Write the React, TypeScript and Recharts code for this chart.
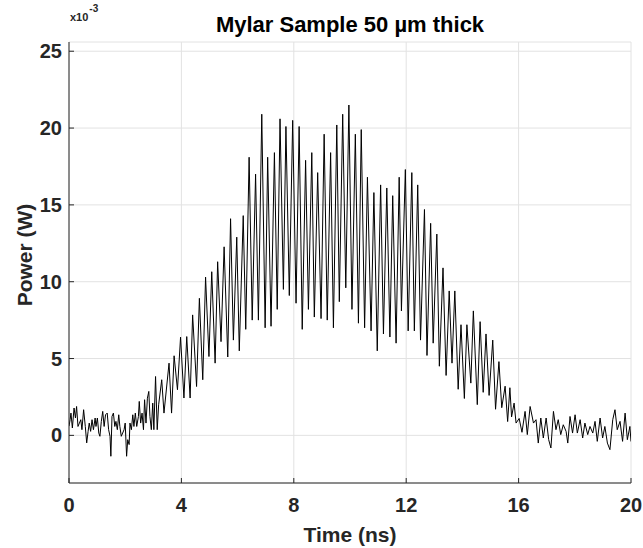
import React from "react";
import { LineChart, Line, XAxis, YAxis, CartesianGrid } from "recharts";

// power values are in units of 1e-3 W (axis carries the x10^-3 exponent)

// noise floor before the pulse
const preTime = [
  0.0, 0.04, 0.07, 0.12, 0.18, 0.23, 0.27, 0.32, 0.37, 0.42,
  0.46, 0.52, 0.58, 0.63, 0.68, 0.72, 0.77, 0.82, 0.87, 0.93,
  0.96, 1.01, 1.06, 1.1, 1.15, 1.2, 1.25, 1.3, 1.36, 1.41,
  1.46, 1.49, 1.53, 1.58, 1.63, 1.67, 1.72, 1.77, 1.81, 1.86,
  1.91, 1.96, 2.0, 2.05, 2.09, 2.14, 2.17, 2.22, 2.27, 2.31,
  2.36, 2.41, 2.47, 2.5, 2.55, 2.6, 2.65, 2.69, 2.74, 2.79,
  2.84, 2.88, 2.93, 2.98, 3.02, 3.08, 3.14, 3.19,
];
const prePower = [
  0.6, 1.02, 1.45, 0.48, 1.78, 1.13, 1.88, 0.58, 0.8, 1.02,
  0.37, 1.67, 0.58, -0.49, 0.26, 0.8, 0.26, 1.02, 0.37, 1.13,
  0.58, 1.13, 0.15, -0.06, 0.91, 1.56, 0.58, 1.34, 1.45, 0.37,
  -0.06, -1.36, 1.23, 1.45, 0.58, 0.91, 0.37, 1.34, 0.58, -0.06,
  0.15, 0.37, 0.8, -1.36, -0.28, -0.6, 0.8, 0.37, 1.34, 0.58,
  1.45, 0.58, 1.23, 2.21, 0.8, 1.45, 0.37, 2.32, 0.8, 2.42,
  2.86, 1.23, 0.37, 2.1, 0.37, 3.83, 0.37, 1.99,
];

// interference fringes (alternating peak / trough)
const pulseTime = [
  3.3, 3.38, 3.56, 3.65, 3.74, 3.86, 3.97, 4.09, 4.19, 4.31,
  4.4, 4.54, 4.64, 4.76, 4.86, 4.98, 5.08, 5.2, 5.29, 5.41,
  5.52, 5.65, 5.75, 5.85, 5.97, 6.06, 6.2, 6.29, 6.41, 6.52,
  6.64, 6.74, 6.86, 6.98, 7.07, 7.19, 7.31, 7.41, 7.51, 7.63,
  7.72, 7.84, 7.96, 8.08, 8.19, 8.3, 8.42, 8.52, 8.64, 8.73,
  8.85, 8.97, 9.08, 9.19, 9.31, 9.41, 9.53, 9.62, 9.74, 9.85,
  9.96, 10.07, 10.19, 10.3, 10.4, 10.52, 10.62, 10.75, 10.85, 10.97,
  11.09, 11.19, 11.31, 11.42, 11.52, 11.64, 11.75, 11.83, 11.97, 12.07,
  12.2, 12.29, 12.41, 12.51, 12.65, 12.74, 12.87, 12.96, 13.09, 13.18,
  13.31, 13.42, 13.53, 13.63, 13.73, 13.85, 13.95, 14.07, 14.16, 14.3,
  14.39, 14.53, 14.63, 14.74, 14.84, 14.95, 15.08, 15.18, 15.3, 15.4,
  15.52, 15.61, 15.69, 15.75, 15.84, 15.91, 16.02, 16.12,
];
const pulsePower = [
  3.62, 1.45, 4.7, 1.45, 5.18, 2.97, 6.39, 2.43, 6.43, 2.43,
  7.84, 3.18, 8.92, 3.62, 10.3, 5.13, 10.65, 4.7, 11.3, 6.1,
  12.27, 5.1, 14.1, 6.2, 12.9, 5.5, 14.3, 6.9, 18.1, 7.5,
  17.0, 7.5, 20.9, 7.0, 18.1, 7.1, 18.4, 8.2, 20.6, 9.5,
  20.1, 9.1, 20.5, 8.6, 20.1, 6.9, 17.9, 8.2, 18.4, 7.7,
  17.1, 7.6, 19.6, 7.5, 18.4, 7.0, 20.2, 8.7, 20.9, 9.6,
  21.5, 8.2, 19.6, 7.3, 19.9, 7.0, 16.8, 6.8, 15.8, 5.5,
  16.3, 6.6, 16.1, 6.4, 15.6, 6.0, 16.8, 8.1, 17.3, 6.8,
  17.1, 6.8, 16.3, 6.2, 14.7, 5.2, 13.8, 6.0, 13.1, 4.5,
  10.9, 3.9, 9.4, 4.7, 9.4, 3.0, 7.2, 2.4, 7.2, 3.4,
  8.1, 2.0, 7.4, 2.8, 6.6, 2.6, 6.2, 1.7, 4.8, 1.8,
  3.2, 0.9, 3.1, 1.2, 2.1, 0.8, 1.1, 0.2,
];

// noise floor after the pulse
const postTime = [
  16.23, 16.31, 16.41, 16.53, 16.62, 16.7, 16.79, 16.88, 16.98, 17.07,
  17.15, 17.24, 17.33, 17.41, 17.5, 17.59, 17.69, 17.75, 17.83, 17.92,
  18.01, 18.09, 18.19, 18.28, 18.36, 18.46, 18.54, 18.64, 18.72, 18.8,
  18.9, 18.99, 19.07, 19.16, 19.25, 19.35, 19.43, 19.51, 19.61, 19.7,
  19.79, 19.87, 19.96, 20.0,
];
const postPower = [
  1.56, 0.05, 1.88, 0.8, 1.02, -0.5, 1.13, -0.17, 1.13, -0.28,
  -0.82, 1.56, 0.37, 1.02, 0.05, 0.69, 0.26, -0.5, 1.23, 0.15,
  1.34, 0.15, 1.02, -0.17, 0.8, 0.05, 0.58, 0.15, 0.91, -0.39,
  1.13, -0.17, 0.58, -0.5, -0.93, 1.02, 1.67, 0.37, 0.91, -0.39,
  1.45, -0.28, 0.58, -0.4,
];

const xTicks = [0, 4, 8, 12, 16, 20];
const yTicks = [0, 5, 10, 15, 20, 25];

const timeNs = [...preTime, ...pulseTime, ...postTime];
const powerMw = [...prePower, ...pulsePower, ...postPower];
const data = timeNs.map((t, i) => ({ t, p: powerMw[i] }));

const ink = "#262626";
const font = "'Liberation Sans', Arial, Helvetica, sans-serif";
const tickFont = { fill: ink, fontSize: 20, fontWeight: "bold", fontFamily: font };

export default function App() {
  return (
    <div
      style={{
        position: "absolute",
        left: 0,
        top: 0,
        width: 643,
        height: 548,
        background: "#fff",
        fontFamily: font,
        color: ink,
      }}
    >
      <LineChart
        width={643}
        height={548}
        data={data}
        margin={{ top: 42, right: 12, bottom: 0, left: 0 }}
      >
        <CartesianGrid stroke="#e2e2e2" />
        <XAxis
          dataKey="t"
          type="number"
          domain={[0, 20]}
          ticks={xTicks}
          interval={0}
          allowDataOverflow
          height={65}
          tickSize={-5}
          tickMargin={20}
          axisLine={{ stroke: ink }}
          tickLine={{ stroke: ink }}
          tick={tickFont}
        />
        <XAxis
          xAxisId="top"
          orientation="top"
          dataKey="t"
          type="number"
          domain={[0, 20]}
          ticks={xTicks}
          interval={0}
          height={0}
          tickSize={-5}
          axisLine={{ stroke: ink }}
          tickLine={{ stroke: ink }}
          tick={false}
        />
        <YAxis
          type="number"
          domain={[-3.1, 25.6]}
          ticks={yTicks}
          interval={0}
          allowDataOverflow
          width={69}
          tickSize={-5}
          tickMargin={12}
          axisLine={{ stroke: ink }}
          tickLine={{ stroke: ink }}
          tick={tickFont}
        />
        <YAxis
          yAxisId="right"
          orientation="right"
          type="number"
          domain={[-3.1, 25.6]}
          ticks={yTicks}
          interval={0}
          width={0}
          tickSize={-5}
          axisLine={{ stroke: ink }}
          tickLine={{ stroke: ink }}
          tick={false}
        />
        <Line
          type="linear"
          dataKey="p"
          stroke="#000"
          strokeWidth={1}
          dot={false}
          isAnimationActive={false}
        />
      </LineChart>

      <div
        style={{
          position: "absolute",
          left: 69,
          width: 562,
          top: 13,
          textAlign: "center",
          fontSize: 22,
          fontWeight: "bold",
          lineHeight: "24px",
          color: "#000",
        }}
      >
        Mylar Sample 50 µm thick
      </div>

      <div
        style={{
          position: "absolute",
          left: 70,
          top: 11,
          fontSize: 11,
          fontWeight: "bold",
          lineHeight: "12px",
          whiteSpace: "nowrap",
        }}
      >
        x10
        <span style={{ position: "relative", top: -9, fontSize: 10, marginLeft: 1 }}>-3</span>
      </div>

      <div
        style={{
          position: "absolute",
          left: 69,
          width: 562,
          top: 523,
          textAlign: "center",
          fontSize: 21,
          fontWeight: "bold",
          lineHeight: "24px",
        }}
      >
        Time (ns)
      </div>

      <div
        style={{
          position: "absolute",
          left: 25,
          top: 255,
          transform: "translate(-50%, -50%) rotate(-90deg)",
          fontSize: 21,
          fontWeight: "bold",
          lineHeight: "24px",
          whiteSpace: "nowrap",
        }}
      >
        Power (W)
      </div>
    </div>
  );
}
